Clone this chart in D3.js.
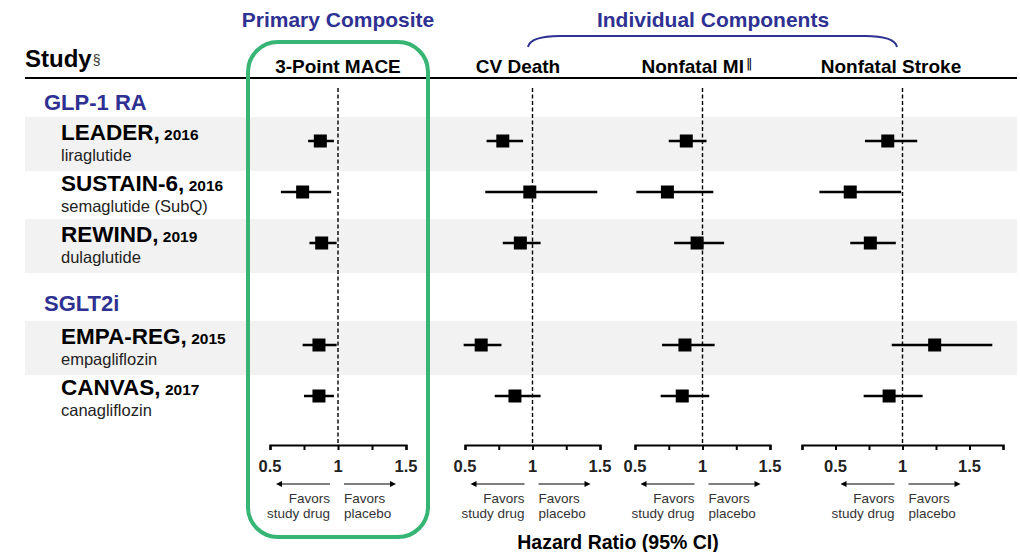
<!DOCTYPE html>
<html>
<head>
<meta charset="utf-8">
<script src="https://cdn.jsdelivr.net/npm/d3@7"></script>
<style>
  html, body { margin: 0; padding: 0; background: #fff; }
  svg { display: block; font-family: "Liberation Sans", Arial, Helvetica, sans-serif; }
</style>
</head>
<body>
<svg id="chart" width="1020" height="552"></svg>
<script>
// ---- data ----
const studies = ["LEADER", "SUSTAIN-6", "REWIND", "EMPA-REG", "CANVAS"];
const years = ["2016", "2016", "2019", "2015", "2017"];
const drugs = ["liraglutide", "semaglutide (SubQ)", "dulaglutide", "empagliflozin", "canagliflozin"];
const drugClasses = ["GLP-1 RA", "SGLT2i"];
const outcomes = ["3-Point MACE", "CV Death", "Nonfatal MI", "Nonfatal Stroke"];

const maceHR = [0.87, 0.74, 0.88, 0.86, 0.86];
const maceLo = [0.78, 0.58, 0.79, 0.74, 0.75];
const maceHi = [0.97, 0.95, 0.99, 0.99, 0.97];

const cvdHR = [0.78, 0.98, 0.91, 0.62, 0.87];
const cvdLo = [0.66, 0.65, 0.78, 0.49, 0.72];
const cvdHi = [0.93, 1.48, 1.06, 0.77, 1.06];

const miHR = [0.88, 0.74, 0.96, 0.87, 0.85];
const miLo = [0.75, 0.51, 0.79, 0.70, 0.69];
const miHi = [1.03, 1.08, 1.16, 1.09, 1.05];

const strokeHR = [0.89, 0.61, 0.76, 1.24, 0.90];
const strokeLo = [0.72, 0.38, 0.61, 0.92, 0.71];
const strokeHi = [1.11, 0.99, 0.95, 1.67, 1.15];

const tickLabels = ["0.5", "1", "1.5"];
const axisTicksStd = [0.5, 0.75, 1, 1.25, 1.5];
const axisTicksWide = [0.25, 0.5, 0.75, 1, 1.25, 1.5, 1.75];

// ---- layout ----
const svg = d3.select("#chart");
const BLUE = "#2e3192";
const GREEN = "#36b574";
const seriesHR = [maceHR, cvdHR, miHR, strokeHR];
const seriesLo = [maceLo, cvdLo, miLo, strokeLo];
const seriesHi = [maceHi, cvdHi, miHi, strokeHi];

const panels = [
  { domain: [0.5, 1.5], range: [270, 406], ticks: axisTicksStd, title: 338 },
  { domain: [0.5, 1.5], range: [465, 600], ticks: axisTicksStd, title: 518 },
  { domain: [0.5, 1.5], range: [635, 770], ticks: axisTicksStd, title: 697 },
  { domain: [0.25, 1.75], range: [802, 1003], ticks: axisTicksWide, title: 891 }
];
panels.forEach(p => p.x = d3.scaleLinear().domain(p.domain).range(p.range));

const rowKeys = ["LEADER", "SUSTAIN-6", "REWIND", "__gap__", "EMPA-REG", "CANVAS"];
const yRow = d3.scaleBand().domain(rowKeys).range([117, 117 + 51 * 6]);
const bandH = 54;
const markerOff = 24;
const axisY = 445;

// Shaded bands (alternating)
const shaded = ["LEADER", "REWIND", "EMPA-REG"];
svg.append("g").selectAll("rect").data(shaded).join("rect")
  .attr("x", 25).attr("width", 992)
  .attr("y", d => yRow(d)).attr("height", bandH)
  .attr("fill", "#f2f2f2");

// Header line
svg.append("line").attr("x1", 25).attr("x2", 1017).attr("y1", 78).attr("y2", 78)
  .attr("stroke", "#000").attr("stroke-width", 2);

// Study header
const st = svg.append("text").attr("x", 25).attr("y", 67).attr("font-size", 24).attr("font-weight", "bold").attr("fill", "#000");
st.append("tspan").text("Study");
st.append("tspan").attr("font-size", 14).attr("font-weight", "normal").attr("dy", -2).attr("dx", 1).attr("fill", "#333").text("§");

// Top group titles
svg.append("text").attr("x", 338).attr("y", 27).attr("text-anchor", "middle")
  .attr("font-size", 21).attr("font-weight", "bold").attr("fill", BLUE).text("Primary Composite");
svg.append("text").attr("x", 713).attr("y", 27).attr("text-anchor", "middle")
  .attr("font-size", 21).attr("font-weight", "bold").attr("fill", BLUE).text("Individual Components");
// brace
svg.append("path")
  .attr("d", "M528,47 C530,38 545,36 560,36 L865,36 C880,36 895,38 897,47")
  .attr("fill", "none").attr("stroke", BLUE).attr("stroke-width", 2);

// Green rounded box
svg.append("rect").attr("x", 248).attr("y", 42).attr("width", 180).attr("height", 495)
  .attr("rx", 30).attr("ry", 30)
  .attr("fill", "none").attr("stroke", GREEN).attr("stroke-width", 4);

// Outcome titles
outcomes.forEach((o, i) => {
  const t = svg.append("text").attr("x", panels[i].title).attr("y", 73)
    .attr("text-anchor", "middle").attr("font-size", 19).attr("font-weight", "bold").attr("fill", "#000");
  t.append("tspan").text(o);
  if (o === "Nonfatal MI") t.append("tspan").attr("font-family", "DejaVu Sans").attr("fill", "#000")
    .attr("font-size", 13).attr("font-weight", "normal").attr("dy", -5).attr("dx", 2).text("‖");
});

// Group labels
const groupY = { "GLP-1 RA": 110, "SGLT2i": yRow("__gap__") + 41 };
drugClasses.forEach(c => {
  svg.append("text").attr("x", 44).attr("y", groupY[c]).attr("font-size", 22)
    .attr("font-weight", "bold").attr("fill", BLUE).text(c);
});

// Study labels
studies.forEach((s, i) => {
  const top = yRow(s);
  const t = svg.append("text").attr("x", 61).attr("y", top + 23).attr("fill", "#000").attr("font-weight", "bold");
  t.append("tspan").attr("font-size", 22.5).text(s + ",");
  t.append("tspan").attr("font-size", 15.5).text(" " + years[i]);
  svg.append("text").attr("x", 61).attr("y", top + 44).attr("font-size", 16.5).attr("fill", "#222").text(drugs[i]);
});

// Panels
panels.forEach((p, pi) => {
  const g = svg.append("g");
  // reference dashed line
  g.append("line").attr("x1", p.x(1)).attr("x2", p.x(1)).attr("y1", 88).attr("y2", axisY)
    .attr("stroke", "#000").attr("stroke-width", 1.4).attr("stroke-dasharray", "4,2.5");
  // axis
  const ax = d3.axisBottom(p.x).tickValues(p.ticks).tickSize(5).tickSizeOuter(5).tickFormat(() => "");
  const ag = g.append("g").attr("transform", `translate(0,${axisY})`).call(ax);
  ag.select(".domain").attr("stroke-width", 2.2).attr("stroke", "#000");
  ag.selectAll(".tick line").attr("stroke-width", 2).attr("stroke", "#000");
  // tick labels
  g.selectAll("text.tl").data(tickLabels).join("text").attr("class", "tl")
    .attr("x", d => p.x(+d)).attr("y", 472).attr("text-anchor", "middle")
    .attr("font-size", 16.5).attr("font-weight", "bold").attr("fill", "#222").text(d => d);
  // favors arrows
  const c = p.x(1);
  g.append("line").attr("x1", c - 8).attr("x2", c - 58).attr("y1", 484).attr("y2", 484)
    .attr("stroke", "#000").attr("stroke-width", 1.2);
  g.append("path").attr("d", `M${c - 62},484 l6,-3 l0,6 z`).attr("fill", "#000");
  g.append("line").attr("x1", c + 6).attr("x2", c + 54).attr("y1", 484).attr("y2", 484)
    .attr("stroke", "#000").attr("stroke-width", 1.2);
  g.append("path").attr("d", `M${c + 58},484 l-6,-3 l0,6 z`).attr("fill", "#000");
  const fs = 13.5;
  g.append("text").attr("x", c - 8).attr("y", 503).attr("text-anchor", "end").attr("font-size", fs).attr("fill", "#333").text("Favors");
  g.append("text").attr("x", c - 8).attr("y", 518).attr("text-anchor", "end").attr("font-size", fs).attr("fill", "#333").text("study drug");
  g.append("text").attr("x", c + 6).attr("y", 503).attr("text-anchor", "start").attr("font-size", fs).attr("fill", "#333").text("Favors");
  g.append("text").attr("x", c + 6).attr("y", 518).attr("text-anchor", "start").attr("font-size", fs).attr("fill", "#333").text("placebo");

  // CI lines and markers
  const hr = seriesHR[pi], lo = seriesLo[pi], hi = seriesHi[pi];
  const rows = studies.map((s, i) => ({ s, hr: hr[i], lo: lo[i], hi: hi[i] }));
  g.selectAll("line.ci").data(rows).join("line").attr("class", "ci")
    .attr("x1", d => p.x(d.lo)).attr("x2", d => p.x(d.hi))
    .attr("y1", d => yRow(d.s) + markerOff).attr("y2", d => yRow(d.s) + markerOff)
    .attr("stroke", "#000").attr("stroke-width", 2.5);
  g.selectAll("rect.pt").data(rows).join("rect").attr("class", "pt")
    .attr("x", d => p.x(d.hr) - 6.5).attr("y", d => yRow(d.s) + markerOff - 6.5)
    .attr("width", 13).attr("height", 13).attr("fill", "#000");
});

// x-axis title
svg.append("text").attr("x", 618).attr("y", 549).attr("text-anchor", "middle")
  .attr("font-size", 19.5).attr("font-weight", "bold").attr("fill", "#000").text("Hazard Ratio (95% CI)");
</script>
</body>
</html>
